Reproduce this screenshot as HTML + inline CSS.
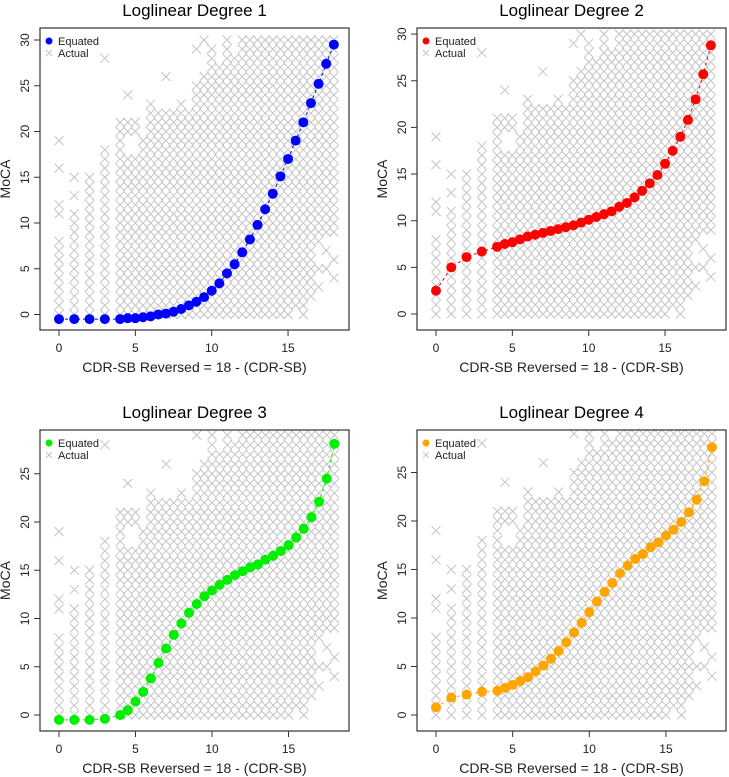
<!DOCTYPE html>
<html><head><meta charset="utf-8"><style>
body{margin:0;background:#fff;}
svg{display:block;font-family:"Liberation Sans",Arial,sans-serif;}
</style></head><body>
<svg id="s" width="729" height="777" viewBox="0 0 729 777"></svg>
<script>
const xs=[0,1,2,3,4,4.5,5,5.5,6,6.5,7,7.5,8,8.5,9,9.5,10,10.5,11,11.5,12,12.5,13,13.5,14,14.5,15,15.5,16,16.5,17,17.5,18];
const deg1=[-0.5,-0.5,-0.5,-0.5,-0.5,-0.4,-0.4,-0.3,-0.2,0,0.1,0.3,0.6,1.0,1.4,1.9,2.6,3.4,4.5,5.5,6.8,8.2,9.8,11.5,13.2,15.1,17,19,21,23.1,25.2,27.4,29.5];
const deg2=[2.5,5,6.1,6.7,7.2,7.5,7.7,8,8.3,8.5,8.7,8.9,9.1,9.3,9.5,9.8,10.1,10.4,10.7,11,11.5,11.9,12.5,13.2,14,14.9,16.1,17.5,19,20.8,23,25.7,28.8];
const deg3=[-0.5,-0.5,-0.5,-0.4,0,0.5,1.4,2.4,3.8,5.4,6.9,8.3,9.5,10.6,11.5,12.3,12.9,13.5,14,14.5,14.9,15.3,15.6,16.1,16.5,17,17.6,18.4,19.3,20.5,22.1,24.5,28.1];
const deg4=[0.8,1.8,2.1,2.4,2.5,2.8,3.1,3.5,3.9,4.5,5.1,5.8,6.6,7.5,8.5,9.5,10.6,11.7,12.7,13.6,14.6,15.4,16.1,16.6,17.3,17.8,18.5,19.1,19.9,20.9,22.2,24.1,27.6];
// actual data: per column x, contiguous range lo..hi plus extra values
const actX=[0,1,2,3,4,4.5,5,5.5,6,6.5,7,7.5,8,8.5,9,9.5,10,10.5,11,11.5,12,12.5,13,13.5,14,14.5,15,15.5,16,16.5,17,17.5,18];
const actLo=[0,0,0,0,0,0,0,0,0,0,0,0,0,0,0,0,0,0,0,0,0,0,0,0,0,0,0,1,0,2,8,9,9];
const actHi=[8,11,15,18,21,17,17,19,23,22,22,22,23,22,25,26,29,27,30,28,30,30,30,30,30,30,30,30,30,30,30,30,30];
const actExtra=[[11,12,16,19],[13,15],[],[28],[],[20,21,24],[20,21],[],[],[],[26],[],[],[],[29],[30],[],[],[],[],[],[],[],[],[],[],[],[],[],[],[3,5],[5,7],[4,6]];
const xTicks=[0,5,10,15];
const panels=[
 {title:"Loglinear Degree 1",vals:deg1,col:"#0000ff",bx:40,by:28,bw:309,bh:302,x0:59,xs:15.27,y0:314.5,ys:9.15,yt:[0,5,10,15,20,25,30],ymax:30},
 {title:"Loglinear Degree 2",vals:deg2,col:"#ff0000",bx:417,by:28,bw:309,bh:302,x0:436,xs:15.27,y0:314,ys:9.33,yt:[0,5,10,15,20,25,30],ymax:30},
 {title:"Loglinear Degree 3",vals:deg3,col:"#00ee00",bx:40,by:430,bw:309,bh:301,x0:59,xs:15.3,y0:715,ys:9.65,yt:[0,5,10,15,20,25],ymax:29.4},
 {title:"Loglinear Degree 4",vals:deg4,col:"#ffa500",bx:417,by:430,bw:309,bh:301,x0:436,xs:15.33,y0:715,ys:9.7,yt:[0,5,10,15,20,25],ymax:29.4}
];
const NS="http://www.w3.org/2000/svg";
const svg=document.getElementById('s');
function mk(t,a,p){const e=document.createElementNS(NS,t);for(const k in a)e.setAttribute(k,a[k]);(p||svg).appendChild(e);return e;}
function cross(g,cx,cy,r){mk('path',{d:`M${cx-r},${cy-r}L${cx+r},${cy+r}M${cx-r},${cy+r}L${cx+r},${cy-r}`,stroke:'#c4c4c4','stroke-width':1,fill:'none'},g);}
panels.forEach((P,i)=>{
 const X=v=>P.x0+v*P.xs, Y=v=>P.y0-v*P.ys;
 const g=mk('g',{});
 
 
 const t=mk('text',{x:P.bx+P.bw/2,y:P.by-12,'text-anchor':'middle','font-size':17,fill:'#000'},g);t.textContent=P.title;
 
 const ag=mk('g',{},g);
 
 actX.forEach((x,j)=>{
  const ys=[];for(let y=actLo[j];y<=actHi[j];y++)ys.push(y);
  (actExtra[j]||[]).forEach(y=>{if(ys.indexOf(y)<0)ys.push(y);});
  ys.forEach(y=>{if(y<=P.ymax)cross(ag,X(x),Y(y),4.5);});
 });
 let d='';P.vals.forEach((v,j)=>{d+=(j?'L':'M')+X(xs[j])+','+Y(v);});
 const ln=mk('path',{d:d,stroke:P.col,'stroke-width':1,'stroke-dasharray':'3,3',fill:'none'},g);
 
 const eg=mk('g',{},g);
 
 P.vals.forEach((v,j)=>{const c=mk('circle',{cx:X(xs[j]),cy:Y(v),r:5,fill:P.col},eg);});
 mk('rect',{x:P.bx,y:P.by,width:P.bw,height:P.bh,fill:'none',stroke:'#333','stroke-width':1.2},g);
 const xa=mk('g',{},g);
 const xb=P.by+P.bh;
 xTicks.forEach(v=>{mk('line',{x1:X(v),x2:X(v),y1:xb,y2:xb+6,stroke:'#333'},xa);
  const tt=mk('text',{x:X(v),y:xb+22,'text-anchor':'middle','font-size':12,fill:'#222'},xa);tt.textContent=v;});
 const xt=mk('text',{x:P.bx+P.bw/2,y:xb+42,'text-anchor':'middle','font-size':14,fill:'#222'},g);xt.textContent='CDR-SB Reversed = 18 - (CDR-SB)';
 
 const ya=mk('g',{},g);
 P.yt.forEach(v=>{mk('line',{x1:P.bx-6,x2:P.bx,y1:Y(v),y2:Y(v),stroke:'#333'},ya);
  const tt=mk('text',{x:P.bx-11,y:Y(v),'text-anchor':'middle','font-size':12,fill:'#222',transform:`rotate(-90 ${P.bx-11} ${Y(v)})`},ya);tt.textContent=v;});
 const yx=P.bx-30,yy=P.by+P.bh/2;
 const ytl=mk('text',{x:yx,y:yy,'text-anchor':'middle','font-size':14,fill:'#222',transform:`rotate(-90 ${yx} ${yy})`},g);ytl.textContent='MoCA';
 
 const lg=mk('g',{},g);
 const lx=P.bx+9,ly=P.by+13;
 mk('circle',{cx:lx,cy:ly,r:3.5,fill:P.col},lg);
 const l1=mk('text',{x:lx+9,y:ly+4,'font-size':11,fill:'#222'},lg);l1.textContent='Equated';
 cross(lg,lx,ly+12,3);
 const l2=mk('text',{x:lx+9,y:ly+16,'font-size':11,fill:'#222'},lg);l2.textContent='Actual';
});
</script>
</body></html>
